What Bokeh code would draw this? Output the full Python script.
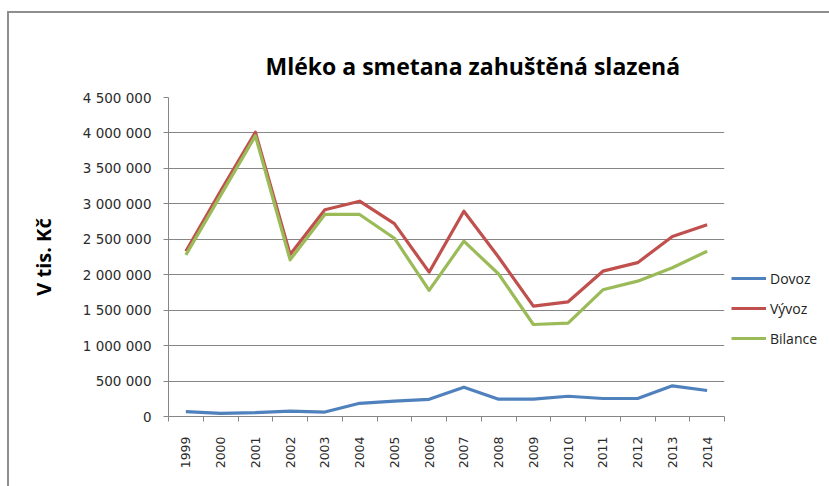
from bokeh.plotting import figure
from bokeh.models import FixedTicker, Legend, LegendItem, Range1d
from bokeh.layouts import row
from bokeh.embed import file_html
from bokeh.resources import INLINE
from math import pi

years = ["1999", "2000", "2001", "2002", "2003", "2004", "2005", "2006",
         "2007", "2008", "2009", "2010", "2011", "2012", "2013", "2014"]
dovoz = [68000, 45000, 54000, 77000, 63000, 186000, 218000, 242000,
         413000, 244000, 244000, 286000, 254000, 254000, 433000, 367000]
vyvoz = [2330000, 3180000, 4010000, 2285000, 2916000, 3037000, 2720000, 2036000,
         2896000, 2247000, 1556000, 1618000, 2050000, 2170000, 2540000, 2704000]
bilance = [2280000, 3120000, 3960000, 2210000, 2850000, 2850000, 2515000, 1780000,
           2473000, 2010000, 1298000, 1316000, 1787000, 1909000, 2098000, 2332000]
series_names = ["Dovoz", "Vývoz", "Bilance"]
series_colors = ["#4F81BD", "#C0504D", "#9BBB59"]
y_ticks = [0, 500000, 1000000, 1500000, 2000000, 2500000, 3000000, 3500000, 4000000, 4500000]
y_tick_labels = ["0", "500 000", "1 000 000", "1 500 000", "2 000 000", "2 500 000",
                 "3 000 000", "3 500 000", "4 000 000", "4 500 000"]
title_text = "Mléko a smetana zahuštěná slazená"
y_axis_label = "V tis. Kč"

n = len(years)
centers = [i + 0.5 for i in range(n)]
bounds = [float(i) for i in range(n + 1)]
series = [dovoz, vyvoz, bilance]

p = figure(width=717, height=473, x_range=Range1d(0, n), y_range=Range1d(0, y_ticks[-1]),
           output_backend="svg", toolbar_location=None,
           min_border_left=159, min_border_right=2, min_border_top=84, min_border_bottom=70)
p.outline_line_color = None
p.background_fill_color = "white"
p.border_fill_color = "white"

p.title.text = title_text
p.title.align = "left"
p.title.offset = 97
p.title.standoff = 31
p.title.text_font = "Open Sans"
p.title.text_font_size = "23px"
p.title.text_font_style = "bold"
p.title.text_color = "#000000"

grid_color = "#868686"
# x axis
xa = p.xaxis[0]
xa.ticker = FixedTicker(ticks=centers, minor_ticks=bounds)
xa.major_label_overrides = {c: y for c, y in zip(centers, years)}
xa.major_label_orientation = pi / 2
xa.major_tick_out = 0
xa.major_tick_in = 0
xa.minor_tick_out = 5
xa.minor_tick_in = 0
xa.minor_tick_line_color = grid_color
xa.axis_line_color = grid_color
xa.major_label_standoff = 15
xa.major_label_text_font = "DejaVu Sans"
xa.major_label_text_font_size = "12.5px"
xa.major_label_text_color = "#2b2b2b"
p.xgrid.visible = False

# y axis
ya = p.yaxis[0]
ya.ticker = FixedTicker(ticks=y_ticks, minor_ticks=[])
ya.major_label_overrides = {t: l for t, l in zip(y_ticks, y_tick_labels)}
ya.major_tick_out = 5
ya.major_tick_in = 0
ya.minor_tick_out = 0
ya.minor_tick_in = 0
ya.major_tick_line_color = grid_color
ya.axis_line_color = grid_color
ya.major_label_standoff = 12
ya.major_label_text_font = "DejaVu Sans"
ya.major_label_text_font_size = "13.5px"
ya.major_label_text_color = "#2b2b2b"
ya.axis_label = y_axis_label
ya.axis_label_text_font = "Open Sans"
ya.axis_label_text_font_size = "20px"
ya.axis_label_text_font_style = "bold"
ya.axis_label_text_color = "#000000"
ya.axis_label_standoff = 23
p.ygrid.grid_line_color = grid_color
p.ygrid.ticker = FixedTicker(ticks=y_ticks)

for vals, col in zip(series, series_colors):
    p.line(centers, vals, line_color=col, line_width=3.2, line_join="round")

# legend panel (its own lines lie outside its visible range; only the legend shows)
lg = figure(width=103, height=473, x_range=Range1d(-2 * n, -n), y_range=Range1d(0, y_ticks[-1]),
            output_backend="svg", toolbar_location=None,
            min_border_left=0, min_border_right=0, min_border_top=0, min_border_bottom=0)
lg.axis.visible = False
lg.grid.visible = False
lg.outline_line_color = None
lg.background_fill_color = "white"
lg.border_fill_color = "white"
items = []
for name, vals, col in zip(series_names, series, series_colors):
    r = lg.line(centers, vals, line_color=col, line_width=3.2)
    items.append(LegendItem(label=name, renderers=[r]))
legend = Legend(items=items, location=(5, 68))
legend.border_line_color = None
legend.background_fill_alpha = 0
legend.padding = 0
legend.margin = 0
legend.glyph_width = 35
legend.glyph_height = 20
legend.label_height = 20
legend.spacing = 10
legend.label_standoff = 4
legend.label_text_font = "Open Sans"
legend.label_text_font_size = "14px"
legend.label_text_color = "#222222"
lg.add_layout(legend, "center")

layout = row(p, lg, spacing=0)
layout.styles = {"margin-left": "7px", "margin-top": "11px",
                 "border-left": "2px solid #8e8e8e", "border-top": "2px solid #8e8e8e"}

open("out.html", "w").write(file_html(layout, INLINE))
